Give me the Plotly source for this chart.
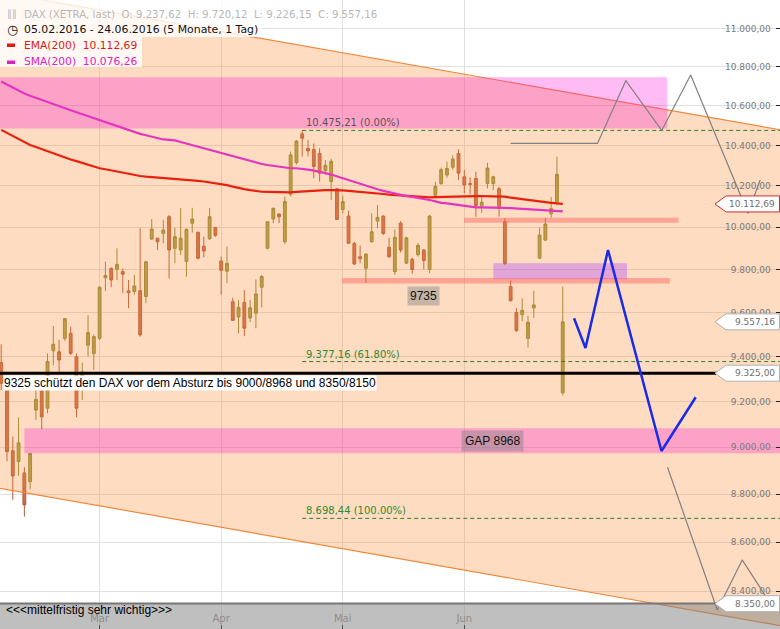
import math
import plotly.graph_objects as go

# ---------------- data ----------------
# DAX (XETRA) daily candles, 05.02.2016 - 24.06.2016, one entry per trading day
OPEN = [9373, 9250, 8985, 8939, 8890, 8853, 9162, 9246, 9170, 9426,
        9421, 9482, 9505, 9399, 9260, 9451, 9413, 9482, 9761, 9805,
        9801, 9790, 9700, 9697, 9701, 9674, 9944, 9948, 9971, 10051,
        9900, 9892, 9838, 10020, 9976, 9910, 9946, 10000, 9840, 9792,
        9650, 9580, 9647, 9575, 9597, 9717, 9900, 10040, 10064, 9931,
        10160, 10315, 10458, 10385, 10380, 10360, 10276, 10222, 10187, 10086,
        10054, 9923, 9860, 9806, 9931, 10030, 10054, 9905, 9790, 10020,
        9830, 9848, 9870, 9892, 9800, 10155, 10212, 10254, 10292, 10360,
        10245, 10212, 10237, 10105, 10212, 10212, 10187, 10027, 9720, 9600,
        9590, 9482, 9621, 9853, 9939, 10065, 10115, 9237.62]
HIGH = [9455, 9265, 9046, 9130, 8915, 8975, 9250, 9255, 9414, 9538,
        9475, 9575, 9535, 9414, 9372, 9588, 9500, 9720, 9837, 9810,
        9900, 9805, 9751, 9775, 9996, 9840, 10040, 9950, 10035, 10059,
        9997, 10093, 9995, 10094, 9980, 9955, 10093, 10001, 9861, 9908,
        9668, 9658, 9704, 9658, 9754, 9775, 10028, 10096, 10068, 10148,
        10370, 10427, 10475.21, 10426, 10410, 10386, 10328, 10334, 10190, 10153,
        10080, 9931, 9913, 9876, 10067, 10107, 10058, 9950, 9990, 10030,
        9955, 9855, 9925, 9897, 10060, 10220, 10290, 10320, 10350, 10380,
        10278, 10242, 10270, 10150, 10314, 10250, 10196, 10043, 9747, 9620,
        9665, 9585, 9700, 9999, 10046, 10147, 10344, 9720.12]
LOW = [9250, 8940, 8776, 8877, 8706, 8821, 9118, 9078, 9148, 9360,
       9331, 9470, 9407, 9130, 9206, 9400, 9339, 9475, 9700, 9717,
       9751, 9690, 9620, 9682, 9490, 9645, 9939, 9892, 9924, 9758,
       9830, 9868, 9766, 9974, 9848, 9857, 9940, 9954, 9682, 9736,
       9562, 9504, 9492, 9556, 9528, 9624, 9895, 10020, 10020, 9920,
       10150, 10305, 10344, 10345, 10238, 10222, 10255, 10132, 10035, 10067,
       9923, 9822, 9830, 9737, 9927, 9995, 9963, 9855, 9774, 9880,
       9825, 9780, 9860, 9800, 9784, 10150, 10205, 10240, 10280, 10230,
       10164, 10160, 10051, 10070, 10188, 10180, 10051, 9821, 9650, 9512,
       9560, 9440, 9575, 9850, 9935, 10046, 10107, 9226.15]
CLOSE = [9280, 8981, 8877, 9019, 8755, 8973, 9209, 9132, 9377, 9455,
         9384, 9572, 9414, 9170, 9331, 9508, 9490, 9717, 9772, 9751,
         9824, 9778, 9692, 9723, 9498, 9836, 9992, 9931, 9987, 9892,
         9955, 9948, 9990, 10040, 9853, 9887, 10051, 9962, 9796, 9829,
         9564, 9624, 9528, 9622, 9686, 9767, 10027, 10091, 10051, 10124,
         10353, 10422, 10436, 10373, 10296, 10263, 10302, 10321, 10038, 10124,
         9924, 9826, 9851, 9873, 9979, 10048, 9971, 9860, 9952, 9892,
         9950, 9800, 9914, 9842, 10054, 10198, 10280, 10286, 10332, 10263,
         10205, 10208, 10105, 10121, 10288, 10245, 10092, 9828, 9655, 9517,
         9610, 9555, 9635, 9963, 10016, 10090, 10257, 9557.16]

EMA200 = [10478, 10462, 10447, 10432, 10417, 10402, 10392, 10381, 10371, 10360,
          10350, 10340, 10330, 10322, 10313, 10304, 10296, 10287, 10282, 10276,
          10270, 10265, 10259, 10254, 10249, 10246, 10244, 10241, 10240, 10238,
          10236, 10234, 10231, 10228, 10225, 10222, 10218, 10215, 10211, 10204,
          10197, 10190, 10185, 10180, 10175, 10172, 10171, 10170, 10170, 10169,
          10169, 10171, 10173, 10175, 10177, 10180, 10180, 10180, 10180, 10179,
          10176, 10174, 10171, 10168, 10166, 10163, 10161, 10158, 10156, 10154,
          10152, 10150, 10148, 10146, 10145, 10146, 10147, 10148, 10150, 10151,
          10151, 10151, 10151, 10151, 10151, 10151, 10151, 10148, 10143, 10139,
          10135, 10131, 10128, 10124, 10121, 10118, 10115, 10112.69]
SMA200 = [10724, 10708, 10692, 10675, 10662, 10651, 10640, 10628, 10617, 10606,
          10596, 10586, 10577, 10567, 10557, 10547, 10537, 10528, 10517, 10507,
          10497, 10486, 10476, 10466, 10458, 10451, 10443, 10435, 10430, 10428,
          10425, 10417, 10409, 10401, 10394, 10386, 10378, 10371, 10363, 10355,
          10347, 10338, 10330, 10321, 10313, 10308, 10303, 10299, 10294, 10290,
          10287, 10287, 10285, 10280, 10275, 10270, 10263, 10256, 10247, 10238,
          10228, 10218, 10208, 10199, 10191, 10184, 10176, 10169, 10162, 10155,
          10151, 10147, 10143, 10139, 10132, 10125, 10118, 10115, 10111, 10108,
          10104, 10099, 10096, 10096, 10096, 10096, 10096, 10094, 10092, 10090,
          10088, 10086, 10085, 10083, 10081, 10079, 10078, 10076.26]

# first trading day of each month (position in the candle list)
MONTH_TICKS = [17, 38, 59, 80]
MONTH_LABELS = ["Mar", "Apr", "Mai", "Jun"]
PRICE_TICKS = [8400, 8600, 8800, 9000, 9200, 9400, 9600, 9800,
               10000, 10200, 10400, 10600, 10800, 11000]

# ---------------- chart drawings (trading-day position, price) ----------------
CHANNEL_X = [-1, 136]
CHANNEL_UPPER = [11195, 10471]
CHANNEL_LOWER = [8828, 8257]
RESIST_ZONE = [-1, 115.06, 10485, 10745]        # x0, x1, low, high
GAP_ZONE = [4.0, 140, 8974, 9082]
TARGET_ZONE = [85.0, 108.1, 9754, 9829]
SUPPORT_BARS = [[58.9, 115.5, 9735, 9760], [79.95, 117.0, 10022, 10046]]
FIB_START = 52
FIB_LEVELS = [10475.21, 9377.16, 8698.44]
FIB_PCT = ["0.00%", "61.80%", "100.00%"]
KEY_LEVEL = 9325
SUPPORT_9735 = 9735
GAP_TEXT = "GAP 8968"
TARGET_8350 = 8350
BLUE_X = [98.95, 100.93, 104.82, 114.06, 119.97]
BLUE_Y = [9574, 9438, 9892, 8984, 9218]
GRAY_UP_X = [88.0, 103.0, 107.9, 114.1, 119.1, 129.0, 131.1]
GRAY_UP_Y = [10410, 10410, 10728, 10475, 10757, 10068, 10229]
GRAY_DN_X = [115.1, 123.7, 128.0, 132.8]
GRAY_DN_Y = [8914, 8325, 8527, 8353]

# ---------------- layout helpers ----------------
W, H = 780, 629
X_RANGE = [-0.2073, 134.53]
Y_RANGE = [math.log10(8249.5), math.log10(11150.6)]
FONT = "DejaVu Sans"
ARIAL = "Liberation Sans"


def de(v):
    s = f"{v:,.2f}"
    return s.replace(",", "#").replace(".", ",").replace("#", ".")


def yv(v):
    """price -> paper y"""
    return (math.log10(v) - Y_RANGE[0]) / (Y_RANGE[1] - Y_RANGE[0])


def xpx(px):
    return px / W


def ypx(py):
    return 1 - py / H


def rect_trace(x0, x1, lo, hi, color):
    return go.Scatter(x=[x0, x1, x1, x0, x0], y=[lo, lo, hi, hi, lo],
                      mode="lines", fill="toself", fillcolor=color,
                      line=dict(width=0), hoverinfo="skip")


fig = go.Figure()

# trend channel
fig.add_trace(go.Scatter(
    x=[CHANNEL_X[0], CHANNEL_X[1], CHANNEL_X[1], CHANNEL_X[0], CHANNEL_X[0]],
    y=[CHANNEL_UPPER[0], CHANNEL_UPPER[1], CHANNEL_LOWER[1], CHANNEL_LOWER[0], CHANNEL_UPPER[0]],
    mode="lines", fill="toself", fillcolor="rgba(250,140,50,0.30)",
    line=dict(color="#f0883c", width=1.2), hoverinfo="skip"))

# zones
fig.add_trace(rect_trace(*RESIST_ZONE, "rgba(255,21,213,0.29)"))
fig.add_trace(rect_trace(*GAP_ZONE, "rgba(255,21,213,0.29)"))
fig.add_trace(rect_trace(*TARGET_ZONE, "rgba(183,82,250,0.40)"))
for bar in SUPPORT_BARS:
    fig.add_trace(rect_trace(*bar, "rgba(255,80,80,0.40)"))

# candles
fig.add_trace(go.Candlestick(
    x=list(range(len(OPEN))), open=OPEN, high=HIGH, low=LOW, close=CLOSE,
    increasing=dict(line=dict(color="#8c8a3a", width=1), fillcolor="#a6a24c"),
    decreasing=dict(line=dict(color="#b45c3e", width=1), fillcolor="#cc6e4e"),
    whiskerwidth=0, hoverinfo="skip"))

# moving averages
fig.add_trace(go.Scatter(x=list(range(len(EMA200))), y=EMA200, mode="lines",
                         line=dict(color="#e8210f", width=2.2), hoverinfo="skip"))
fig.add_trace(go.Scatter(x=list(range(len(SMA200))), y=SMA200, mode="lines",
                         line=dict(color="#e535c0", width=2.2), hoverinfo="skip"))

# fibonacci levels
for lvl in FIB_LEVELS:
    fig.add_trace(go.Scatter(x=[FIB_START, 140], y=[lvl, lvl], mode="lines",
                             line=dict(color="#3a7a2a", width=1, dash="4px,3px"),
                             hoverinfo="skip"))

# key support line
fig.add_trace(go.Scatter(x=[-1, 140], y=[KEY_LEVEL, KEY_LEVEL], mode="lines",
                         line=dict(color="#000000", width=3), hoverinfo="skip"))

# projected paths
fig.add_trace(go.Scatter(x=GRAY_UP_X, y=GRAY_UP_Y, mode="lines",
                         line=dict(color="#808080", width=1.2), hoverinfo="skip"))
fig.add_trace(go.Scatter(x=GRAY_DN_X, y=GRAY_DN_Y, mode="lines",
                         line=dict(color="#808080", width=1.2), hoverinfo="skip"))
fig.add_trace(go.Scatter(x=BLUE_X, y=BLUE_Y, mode="lines",
                         line=dict(color="#1a2be8", width=2.5), hoverinfo="skip"))

shapes = []
annotations = []

# legend backgrounds
shapes.append(dict(type="rect", xref="paper", yref="paper", layer="above",
                   x0=0, x1=xpx(262), y0=ypx(37), y1=1,
                   fillcolor="rgba(255,255,255,0.8)", line=dict(width=0)))
shapes.append(dict(type="rect", xref="paper", yref="paper", layer="above",
                   x0=0, x1=xpx(142), y0=ypx(67), y1=ypx(37),
                   fillcolor="rgba(255,255,255,0.8)", line=dict(width=0)))
shapes.append(dict(type="rect", xref="paper", yref="paper", layer="above",
                   x0=xpx(7), x1=xpx(15), y0=ypx(47), y1=ypx(43.5),
                   fillcolor="#e01a10", line=dict(width=0)))
shapes.append(dict(type="rect", xref="paper", yref="paper", layer="above",
                   x0=xpx(7), x1=xpx(15), y0=ypx(64), y1=ypx(60.5),
                   fillcolor="#e020c0", line=dict(width=0)))

# bottom note band
shapes.append(dict(type="rect", xref="paper", yref="paper", layer="above",
                   x0=0, x1=1, y0=0, y1=ypx(603.5),
                   fillcolor="rgba(128,128,128,0.5)", line=dict(width=0)))
shapes.append(dict(type="line", xref="paper", yref="paper", layer="above",
                   x0=0, x1=1, y0=ypx(603.5), y1=ypx(603.5),
                   line=dict(color="#767676", width=2)))

# price tags on the right
tags = [(EMA200[-1], "#d42a2a"), (CLOSE[-1], "#b0b0b0"),
        (KEY_LEVEL, "#b0b0b0"), (TARGET_8350, "#b0b0b0")]
dh = 8 / H
for val, col in tags:
    yc = yv(val)
    path = (f"M {xpx(715)},{yc} L {xpx(726)},{yc + dh} L {xpx(779.5)},{yc + dh} "
            f"L {xpx(779.5)},{yc - dh} L {xpx(726)},{yc - dh} Z")
    shapes.append(dict(type="path", xref="paper", yref="paper", layer="above",
                       path=path, fillcolor="white", line=dict(color=col, width=1)))
    annotations.append(dict(xref="paper", yref="paper", x=xpx(777), y=yc,
                            xanchor="right", yanchor="middle", showarrow=False,
                            text=de(val), font=dict(family=FONT, size=9, color="#707070")))

# legend texts
nb = "\u00a0\u00a0"
row1 = (f"DAX (XETRA, last){nb}O: {de(OPEN[-1])}{nb}H: {de(HIGH[-1])}{nb}"
        f"L: {de(LOW[-1])}{nb}C: {de(CLOSE[-1])}")
legend_rows = [
    (row1, 14, "#b8b8b8", 10.2),
    ("05.02.2016 - 24.06.2016 (5 Monate, 1 Tag)", 30, "#111111", 10.9),
    (f"EMA(200){nb}{de(EMA200[-1])}", 45.5, "#e01a10", 10.7),
    (f"SMA(200){nb}{de(SMA200[-1])}", 62, "#e020c0", 10.7),
]
for txt, py, col, size in legend_rows:
    annotations.append(dict(xref="paper", yref="paper", x=xpx(22), y=ypx(py),
                            xanchor="left", yanchor="middle", showarrow=False,
                            text=txt, font=dict(family=FONT, size=size, color=col)))
annotations.append(dict(xref="paper", yref="paper", x=xpx(5), y=ypx(30),
                        xanchor="left", yanchor="middle", showarrow=False,
                        text="\u25f7", font=dict(family=FONT, size=13, color="#111111")))
annotations.append(dict(xref="paper", yref="paper", x=xpx(5), y=ypx(14),
                        xanchor="left", yanchor="middle", showarrow=False,
                        text="\u2225\u2225", font=dict(family=FONT, size=10, color="#b8b8b8")))

# fibonacci labels
for lvl, pct, col in zip(FIB_LEVELS, FIB_PCT, ["#555555", "#2f8a2f", "#2f8a2f"]):
    annotations.append(dict(xref="x", yref="y", x=FIB_START + 0.4, y=math.log10(lvl),
                            xanchor="left", yanchor="bottom", showarrow=False,
                            borderpad=0, yshift=1,
                            text=f"{de(lvl)} ({pct})",
                            font=dict(family=FONT, size=10, color=col)))

# drawn notes
annotations.append(dict(xref="paper", yref="y", x=xpx(3), y=math.log10(KEY_LEVEL),
                        xanchor="left", yanchor="top", yshift=-1.5, showarrow=False,
                        bgcolor="white", borderpad=0,
                        text="9325 schützt den DAX vor dem Absturz bis 9000/8968 und 8350/8150",
                        font=dict(family=ARIAL, size=12, color="#000000")))
annotations.append(dict(xref="x", yref="y", x=72.9, y=math.log10(SUPPORT_9735),
                        xanchor="center", yanchor="top", yshift=-3, showarrow=False,
                        bgcolor="rgba(130,130,130,0.45)", borderpad=2,
                        text=str(SUPPORT_9735),
                        font=dict(family=ARIAL, size=12, color="#111111")))
annotations.append(dict(xref="x", yref="paper", x=84.95,
                        y=(yv(GAP_ZONE[2]) + yv(GAP_ZONE[3])) / 2,
                        xanchor="center", yanchor="middle", showarrow=False,
                        bgcolor="rgba(130,130,130,0.45)", borderpad=3,
                        text=GAP_TEXT, font=dict(family=ARIAL, size=12, color="#111111")))
annotations.append(dict(xref="paper", yref="paper", x=xpx(4), y=ypx(610),
                        xanchor="left", yanchor="middle", showarrow=False,
                        text="&lt;&lt;&lt;mittelfristig sehr wichtig&gt;&gt;&gt;",
                        font=dict(family=ARIAL, size=12, color="#000000")))

fig.update_layout(
    width=W, height=H, autosize=False,
    margin=dict(l=0, r=0, t=0, b=0, pad=0),
    paper_bgcolor="white", plot_bgcolor="white",
    showlegend=False, hovermode=False,
    separators=",.",
    shapes=shapes, annotations=annotations,
    xaxis=dict(range=X_RANGE, tickvals=MONTH_TICKS, ticktext=MONTH_LABELS,
               ticks="inside", ticklen=4, tickcolor="#222222",
               ticklabelposition="inside",
               tickfont=dict(family=FONT, size=10, color="#9a9a9a"),
               showgrid=True, gridcolor="#e0e0e0", gridwidth=1,
               zeroline=False, showline=False, rangeslider=dict(visible=False),
               fixedrange=True),
    yaxis=dict(type="log", range=Y_RANGE, side="right",
               tickvals=PRICE_TICKS, tickformat=",.2f",
               ticks="inside", ticklen=4, tickcolor="#222222",
               ticklabelposition="inside", ticklabelstandoff=4,
               tickfont=dict(family=FONT, size=9, color="#7a7a7a"),
               showgrid=True, gridcolor="#e0e0e0", gridwidth=1,
               zeroline=False, showline=False, fixedrange=True),
)

fig.write_html("out.html", config={"displayModeBar": False})
